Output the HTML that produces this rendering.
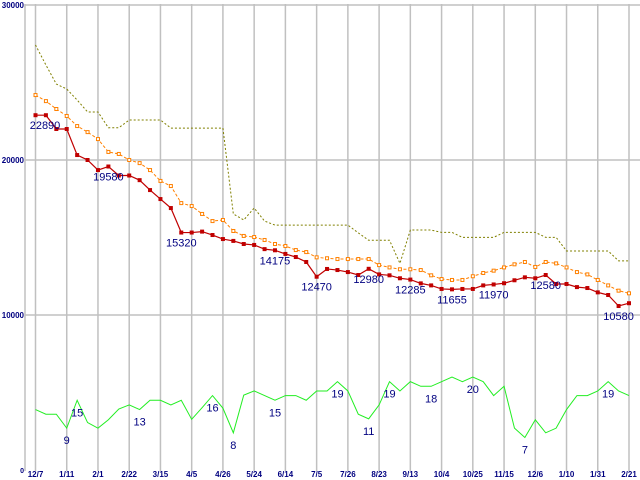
<!DOCTYPE html>
<html><head><meta charset="utf-8"><style>
body{margin:0;background:#fff}
svg{display:block;font-family:"Liberation Sans",sans-serif}
</style></head><body>
<svg id="chart" width="640" height="480" viewBox="0 0 640 480" xmlns="http://www.w3.org/2000/svg"></svg>
<script>
const categories=["12/7","","","1/11","","","2/1","","","2/22","","","3/15","","","4/5","","","4/26","","","5/24","","","6/14","","","7/5","","","7/26","","","8/23","","","9/13","","","10/4","","","10/25","","","11/15","","","12/6","","","1/10","","","1/31","","","2/21"];
const priceValues=[22890,22890,22000,22000,20320,20000,19350,19580,19000,19000,18700,18060,17480,16900,15320,15320,15380,15160,14900,14780,14580,14520,14250,14175,13940,13740,13420,12470,12970,12900,12770,12580,12980,12620,12560,12370,12285,12040,11910,11680,11655,11680,11680,11910,11970,12050,12240,12430,12370,12580,12000,12000,11800,11740,11460,11290,10580,10760];
const avgValues=[24190,23800,23290,22840,22190,21800,21350,20520,20390,20000,19800,19350,18650,18320,17220,17030,16520,16060,16130,15420,15100,15030,14840,14580,14450,14190,14060,13720,13660,13610,13610,13610,13610,13220,13070,12950,12950,12900,12560,12320,12260,12260,12500,12710,12860,13070,13270,13420,13100,13420,13330,13070,12770,12620,12260,11910,11570,11400];
const highValues=[27420,26130,24900,24580,23870,23100,23100,22080,22080,22580,22580,22580,22580,22060,22060,22060,22060,22060,22060,16520,16130,16900,16060,15800,15800,15800,15800,15800,15800,15800,15800,15300,14820,14820,14820,13330,15480,15480,15480,15330,15330,15010,15010,15010,15010,15330,15330,15330,15330,15010,15010,14130,14130,14130,14130,14130,13490,13490];
const ratioValues=[13,12,12,9,15,10.2,9,10.8,13.1,14,13,15,15,14,15,10.9,13.4,16,13.3,8,16.1,17,16,15,16,16,15,17,17,19,17,12,11,14,19,17,19,18,18,19,20,19,20,19,16,18,9,7,10.8,8,9,13,16,16,17,19,17,16];
const yTicks=[0,10000,20000,30000];
const yTickLabels=["0","10000","20000","30000"];
const priceLabelIdx=[0,7,14,23,27,32,36,40,44,49,56];
const ratioLabelIdx=[3,4,10,17,19,23,29,32,34,38,42,47,55];

const svg=document.getElementById('chart');
const NS='http://www.w3.org/2000/svg';
const X0=25,XR=640,Y0=470;
function xs(i){return 35.5+i*(629-35.5)/(categories.length-1);}
function ys(v){return Y0-v*0.0155;}
function yr(v){return Y0-v*4.65;}
function mk(tag,attrs,parent){const e=document.createElementNS(NS,tag);for(const k in attrs)e.setAttribute(k,attrs[k]);(parent||svg).appendChild(e);return e;}

const grid=mk('g',{});


yTicks.forEach((t,k)=>{
  if(t>0){const l=mk('line',{x1:X0,x2:XR,y1:ys(t),y2:ys(t),stroke:'#c0c0c0','stroke-width':1.5},grid);
  
  }
  const tx=mk('text',{x:24,y:ys(t)+3,'text-anchor':'end','font-size':t===0?7:8,'font-weight':'bold',fill:'#000080'});
  tx.textContent=yTickLabels[k];
  
  
});
categories.forEach((c,i)=>{
  if(c==='')return;
  const l=mk('line',{x1:xs(i),x2:xs(i),y1:4,y2:471,stroke:'#c0c0c0','stroke-width':1.5},grid);
  
  
  const tx=mk('text',{x:xs(i),y:477,'text-anchor':'middle','font-size':8,'font-weight':'bold',fill:'#000080'});
  tx.textContent=c;
  
  
});
const ax=mk('line',{x1:X0,x2:X0,y1:4,y2:471,stroke:'#c0c0c0','stroke-width':1.5});



function pts(arr,f){return arr.map((v,i)=>xs(i)+','+f(v)).join(' ');}
const hl=mk('polyline',{points:pts(highValues,ys),fill:'none',stroke:'#808000','stroke-width':1,'stroke-dasharray':'2,2'});


const al=mk('polyline',{points:pts(avgValues,ys),fill:'none',stroke:'#ff8000','stroke-width':1,'stroke-dasharray':'3,2'});


avgValues.forEach((v,i)=>{const r=mk('rect',{x:xs(i)-1.5,y:ys(v)-1.5,width:3,height:3,fill:'#fff',stroke:'#ff8000','stroke-width':1});
  
  });
const pl=mk('polyline',{points:pts(priceValues,ys),fill:'none',stroke:'#c00000','stroke-width':1.2});


priceValues.forEach((v,i)=>{const r=mk('rect',{x:xs(i)-2,y:ys(v)-2,width:4,height:4,fill:'#c00000'});
  
  });
priceLabelIdx.forEach(i=>{
  let x=xs(i);if(x<45)x=45;if(x>622)x=622;
  const t=mk('text',{x:x,y:ys(priceValues[i])+14,'text-anchor':'middle','font-size':11,fill:'#000080'});
  t.textContent=String(priceValues[i]);
  
  
});
const rl=mk('polyline',{points:pts(ratioValues,yr),fill:'none',stroke:'#22ee22','stroke-width':1});


ratioLabelIdx.forEach(i=>{
  const t=mk('text',{x:xs(i),y:yr(ratioValues[i])+16,'text-anchor':'middle','font-size':11,fill:'#000080'});
  t.textContent=String(Math.round(ratioValues[i]));
  
  
});
</script>
</body></html>
